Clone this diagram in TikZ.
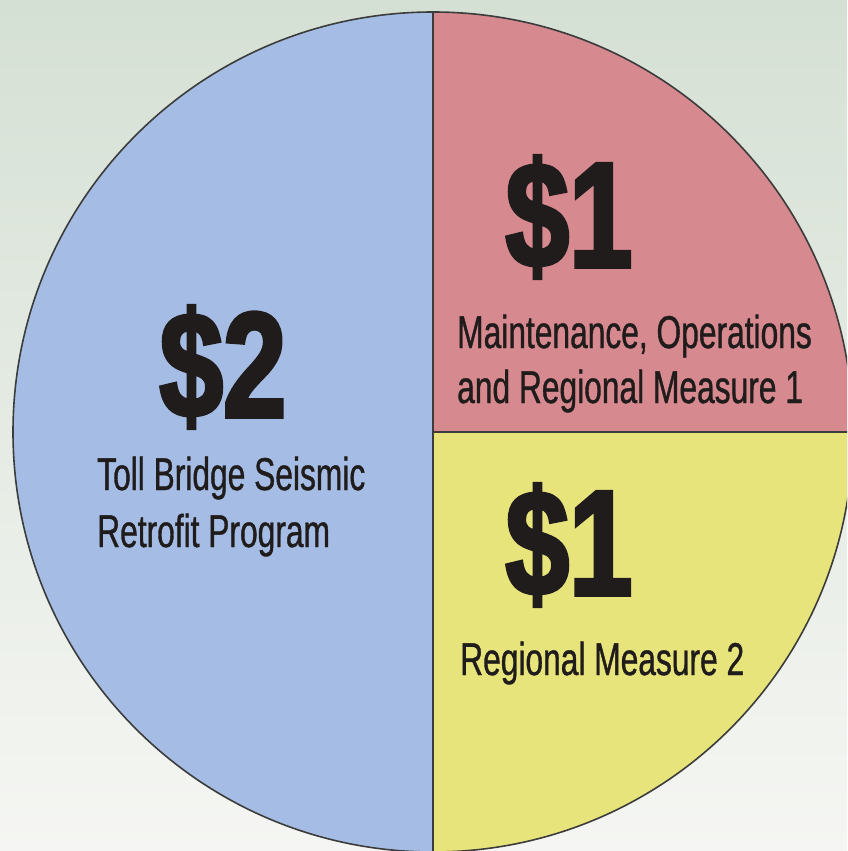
\documentclass[tikz,border=0pt]{standalone}
\usepackage{fontspec}
\setmainfont{Liberation Sans}
\newfontfamily\labelfont{Liberation Sans}[FakeStretch=0.69,FakeBold=0.8]
\newfontfamily\amountfont{Liberation Sans Bold}[FakeStretch=0.76,FakeBold=2.5]
\definecolor{bgtop}{RGB}{213,224,212}
\definecolor{bgbot}{RGB}{245,246,243}
\definecolor{slblue}{RGB}{165,189,228}
\definecolor{slpink}{RGB}{214,137,142}
\definecolor{slyellow}{RGB}{232,228,124}
\definecolor{edge}{RGB}{60,60,60}
\definecolor{ink}{RGB}{32,28,28}
\tikzset{
  amount/.style={inner sep=0pt, anchor=base, text=ink, font=\amountfont\fontsize{150}{150}\selectfont},
  lbl/.style={inner sep=0pt, anchor=base west, text=ink, font=\labelfont\fontsize{46}{56}\selectfont},
  outline/.style={draw=edge, line width=1.6pt}
}
\begin{document}
\begin{tikzpicture}[x=1pt,y=-1pt]
\useasboundingbox (0,0) rectangle (847,851);
\begin{scope}
\clip (0,0) rectangle (847,851);
\shade[top color=bgtop, bottom color=bgbot] (0,0) rectangle (847,851);
\coordinate (c) at (433,432);
\fill[slblue] (c) circle [radius=420];
\begin{scope}
  \clip (c) circle [radius=420];
  \fill[slpink] (433,0) rectangle (900,432);
  \fill[slyellow] (433,432) rectangle (900,900);
\end{scope}
\coordinate (vt) at (433,12);
\coordinate (vb) at (433,852);
\coordinate (hr) at (853,432);
\draw[outline] (vt) -- (vb);
\draw[outline] (c) -- (hr);
\draw[outline] (c) circle [radius=420];
\end{scope}
\node[amount] (a2) at (223,417) {\$2};
\node[lbl] (t1) at (97,490) {Toll Bridge Seismic};
\node[lbl] (t2) at (97,547) {Retrofit Program};
\node[amount] (a1) at (569,267) {\$1};
\node[lbl] (m1) at (457,348) {Maintenance, Operations};
\node[lbl] (m2) at (457,403) {and Regional Measure 1};
\node[amount] (b1) at (569,595) {\$1};
\node[lbl] (r2) at (460,675) {Regional Measure 2};
\end{tikzpicture}
\end{document}
